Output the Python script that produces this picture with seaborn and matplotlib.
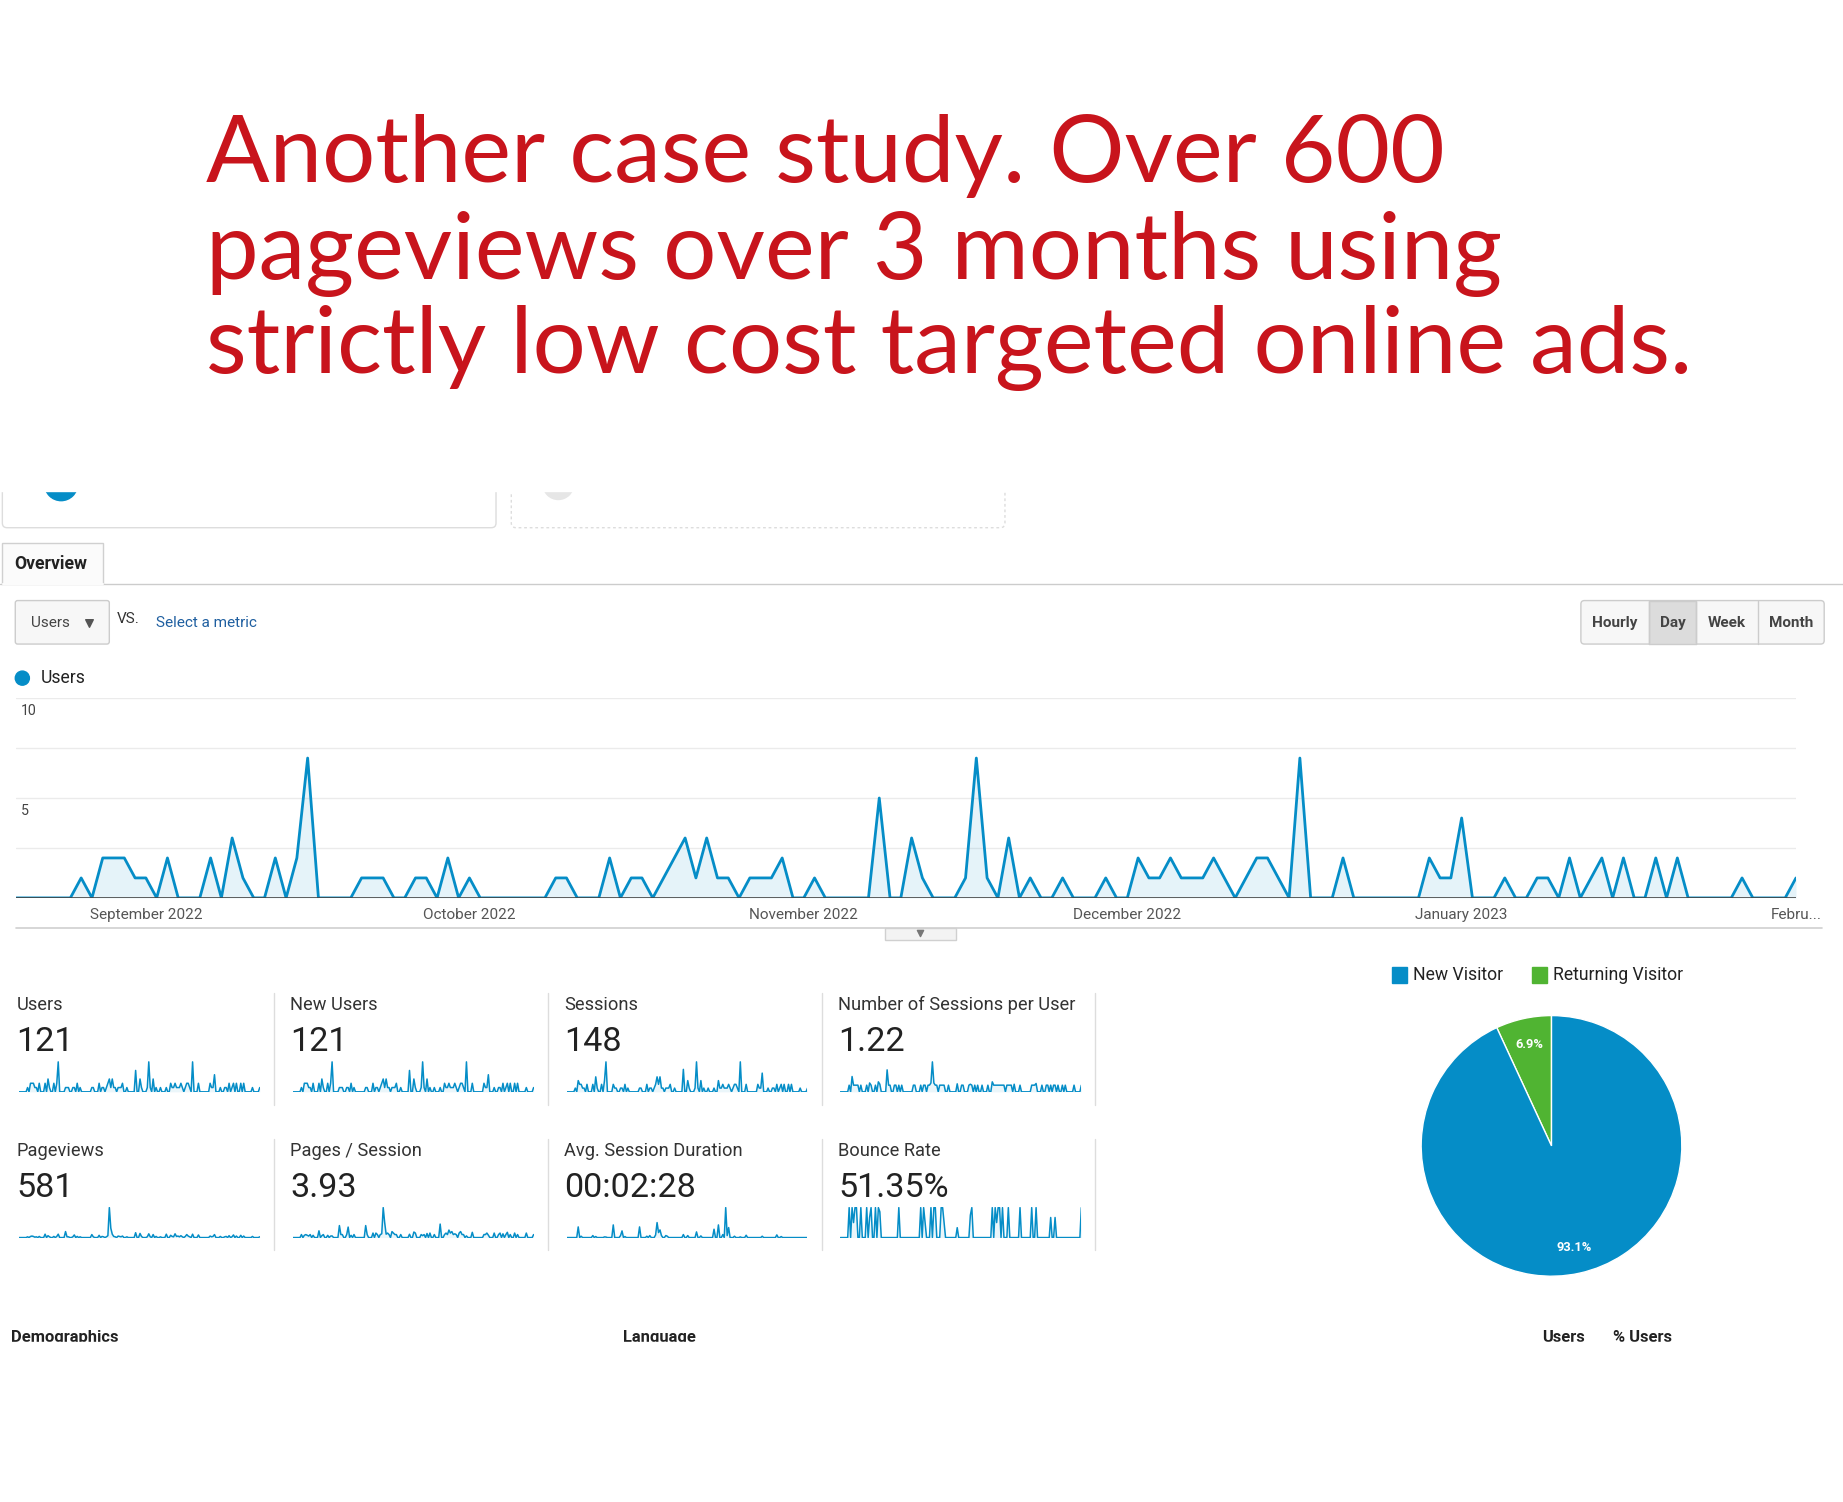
import pandas as pd
import matplotlib
matplotlib.use("Agg")
import matplotlib.pyplot as plt
import matplotlib.patches as mpatches
import seaborn as sns

# ---- data (daily, 20 Aug 2022 - 1 Feb 2023) ----
first_day = "2022-08-20"
last_day = "2023-02-01"

users = [0, 0, 0, 0, 0, 0, 1, 0, 2, 2,
         2, 1, 1, 0, 2, 0, 0, 0, 2, 0,
         3, 1, 0, 0, 2, 0, 2, 7, 0, 0,
         0, 0, 1, 1, 1, 0, 0, 1, 1, 0,
         2, 0, 1, 0, 0, 0, 0, 0, 0, 0,
         1, 1, 0, 0, 0, 2, 0, 1, 1, 0,
         1, 2, 3, 1, 3, 1, 1, 0, 1, 1,
         1, 2, 0, 0, 1, 0, 0, 0, 0, 0,
         5, 0, 0, 3, 1, 0, 0, 0, 1, 7,
         1, 0, 3, 0, 1, 0, 0, 1, 0, 0,
         0, 1, 0, 0, 2, 1, 1, 2, 1, 1,
         1, 2, 1, 0, 1, 2, 2, 1, 0, 7,
         0, 0, 0, 2, 0, 0, 0, 0, 0, 0,
         0, 2, 1, 1, 4, 0, 0, 0, 1, 0,
         0, 1, 1, 0, 2, 0, 1, 2, 0, 2,
         0, 0, 2, 0, 2, 0, 0, 0, 0, 0,
         1, 0, 0, 0, 0, 1]

# every user was new in this period, so the sparkline is identical
new_users = list(users)

sessions = [0, 0, 0, 0, 0, 0, 1, 0, 3, 2,
            2, 1, 1, 0, 2, 0, 0, 0, 2, 0,
            4, 1, 0, 0, 2, 0, 3, 8, 0, 0,
            0, 0, 2, 1, 1, 0, 0, 1, 1, 0,
            2, 0, 1, 0, 0, 0, 0, 0, 0, 0,
            1, 1, 0, 0, 0, 2, 0, 1, 1, 0,
            1, 2, 4, 2, 4, 1, 1, 0, 1, 1,
            1, 2, 0, 0, 1, 0, 0, 0, 0, 0,
            6, 0, 0, 3, 1, 0, 0, 0, 1, 8,
            1, 0, 3, 0, 1, 0, 0, 1, 0, 0,
            0, 1, 0, 0, 3, 1, 1, 2, 1, 1,
            1, 2, 1, 0, 1, 2, 2, 1, 0, 8,
            0, 0, 0, 2, 0, 0, 0, 0, 0, 0,
            0, 2, 1, 1, 5, 0, 0, 0, 1, 0,
            0, 1, 1, 0, 2, 0, 1, 2, 0, 2,
            0, 0, 2, 0, 2, 0, 0, 0, 0, 0,
            1, 0, 0, 0, 0, 1]

sessions_per_user = [0, 0, 0, 0, 0, 0, 1, 0, 2.3, 1,
                     1, 1, 1, 0, 1, 0, 0, 0, 1, 0,
                     1.33, 1, 0, 0, 1, 0, 1.5, 1.14, 0, 0,
                     0, 0, 3.3, 1, 1, 0, 0, 1, 1, 0,
                     1, 0, 1, 0, 0, 0, 0, 0, 0, 0,
                     1, 1, 0, 0, 0, 1, 0, 1, 1, 0,
                     1, 1, 1.33, 4.5, 1.33, 1, 1, 0, 1, 1,
                     1, 1, 0, 0, 1, 0, 0, 0, 0, 0,
                     1.2, 0, 0, 1, 1, 0, 0, 0, 1, 1.14,
                     1, 0, 1, 0, 1, 0, 0, 1, 0, 0,
                     0, 1, 0, 0, 1.5, 1, 1, 1, 1, 1,
                     1, 1, 1, 0, 1, 1, 1, 1, 0, 1.14,
                     0, 0, 0, 1, 0, 0, 0, 0, 0, 0,
                     0, 1, 1, 1, 1.25, 0, 0, 0, 1, 0,
                     0, 1, 1, 0, 1, 0, 1, 1, 0, 1,
                     0, 0, 1, 0, 1, 0, 0, 0, 0, 0,
                     1, 0, 0, 0, 0, 1]

pageviews = [0, 0, 0, 0, 0, 0, 2, 0, 3, 4,
             3, 1, 2, 0, 3, 0, 0, 0, 9, 0,
             5, 2, 0, 0, 3, 0, 3, 9, 0, 0,
             0, 0, 16, 2, 2, 0, 0, 2, 7, 0,
             3, 0, 2, 0, 0, 0, 0, 0, 0, 0,
             8, 2, 0, 0, 0, 6, 0, 3, 2, 0,
             2, 5, 80, 25, 9, 3, 2, 0, 4, 3,
             2, 4, 0, 0, 2, 0, 0, 0, 0, 0,
             13, 0, 0, 11, 3, 0, 0, 0, 2, 10,
             2, 0, 8, 0, 3, 0, 0, 2, 0, 0,
             0, 9, 0, 0, 6, 3, 2, 10, 3, 4,
             2, 5, 2, 0, 3, 8, 4, 2, 0, 9,
             0, 0, 0, 7, 0, 0, 0, 0, 0, 0,
             0, 4, 2, 3, 8, 0, 0, 0, 3, 0,
             0, 2, 3, 0, 5, 0, 2, 7, 0, 4,
             0, 0, 6, 0, 4, 0, 0, 0, 0, 0,
             3, 0, 0, 0, 0, 2]

pages_per_session = [0, 0, 0, 0, 0, 0, 2, 0, 1.5, 2,
                     1.5, 1, 2, 0, 1.5, 0, 0, 0, 4.5, 0,
                     1.25, 2, 0, 0, 1.5, 0, 1, 1.1, 0, 0,
                     0, 0, 8, 2, 2, 0, 0, 2, 7, 0,
                     1.5, 0, 2, 0, 0, 0, 0, 0, 0, 0,
                     8, 2, 0, 0, 0, 3, 0, 3, 2, 0,
                     2, 2.5, 20, 10, 2.25, 3, 2, 0, 4, 3,
                     2, 2, 0, 0, 2, 0, 0, 0, 0, 0,
                     2.2, 0, 0, 3.7, 3, 0, 0, 0, 2, 1.25,
                     2, 0, 2.7, 0, 3, 0, 0, 2, 0, 0,
                     0, 9, 0, 0, 2, 3, 2, 5, 3, 4,
                     2, 2.5, 2, 0, 3, 4, 2, 2, 0, 1.1,
                     0, 0, 0, 3.5, 0, 0, 0, 0, 0, 0,
                     0, 2, 2, 3, 1.6, 0, 0, 0, 3, 0,
                     0, 2, 3, 0, 2.5, 0, 2, 3.5, 0, 2,
                     0, 0, 3, 0, 2, 0, 0, 0, 0, 0,
                     3, 0, 0, 0, 0, 2]

avg_session_secs = [0, 0, 0, 0, 0, 0, 0, 0, 320, 0,
                    40, 0, 0, 0, 0, 0, 0, 0, 60, 0,
                    30, 0, 0, 0, 0, 0, 20, 15, 0, 0,
                    0, 0, 380, 0, 0, 0, 0, 60, 200, 0,
                    30, 0, 0, 0, 0, 0, 0, 0, 0, 0,
                    320, 0, 0, 0, 0, 40, 0, 60, 0, 0,
                    0, 80, 450, 150, 230, 60, 0, 0, 60, 40,
                    0, 0, 0, 0, 0, 0, 0, 0, 0, 0,
                    90, 0, 0, 60, 0, 0, 0, 0, 0, 170,
                    0, 0, 50, 0, 0, 0, 0, 0, 0, 0,
                    0, 250, 0, 0, 380, 0, 0, 90, 0, 900,
                    60, 300, 0, 0, 0, 40, 0, 0, 0, 20,
                    0, 0, 0, 70, 0, 0, 0, 0, 0, 0,
                    0, 0, 0, 0, 40, 0, 0, 0, 0, 0,
                    0, 0, 0, 0, 80, 0, 0, 30, 0, 0,
                    0, 0, 0, 0, 0, 0, 0, 0, 0, 0,
                    0, 0, 0, 0, 0, 0]

bounce_rate = [0, 0, 0, 0, 0, 0, 100, 0, 100, 50,
               100, 100, 0, 0, 100, 0, 0, 0, 100, 0,
               67, 100, 0, 0, 100, 0, 100, 86, 0, 0,
               0, 0, 0, 0, 0, 0, 0, 0, 0, 0,
               100, 0, 0, 0, 0, 0, 0, 0, 0, 0,
               0, 0, 0, 0, 0, 100, 0, 100, 50, 0,
               0, 0, 100, 0, 100, 100, 0, 0, 0, 100,
               100, 50, 0, 0, 0, 0, 0, 0, 0, 0,
               33, 0, 0, 0, 0, 0, 0, 0, 0, 75,
               100, 0, 0, 0, 0, 0, 0, 0, 0, 0,
               0, 0, 0, 0, 100, 0, 100, 50, 100, 100,
               0, 100, 0, 0, 0, 100, 0, 0, 0, 0,
               0, 0, 0, 100, 0, 0, 0, 0, 0, 0,
               0, 100, 0, 0, 100, 0, 0, 0, 0, 0,
               0, 0, 0, 0, 67, 0, 0, 67, 0, 0,
               0, 0, 0, 0, 0, 0, 0, 0, 0, 0,
               0, 0, 0, 0, 0, 100]

month_ticks = ["2022-09-01", "2022-10-01", "2022-11-01", "2022-12-01", "2023-01-01", "2023-02-01"]
month_labels = ["September 2022", "October 2022", "November 2022", "December 2022", "January 2023", "Febru..."]

score_titles = ["Users", "New Users", "Sessions", "Number of Sessions per User",
                "Pageviews", "Pages / Session", "Avg. Session Duration", "Bounce Rate"]
score_values = ["121", "121", "148", "1.22", "581", "3.93", "00:02:28", "51.35%"]
score_series = [users, new_users, sessions, sessions_per_user,
                pageviews, pages_per_session, avg_session_secs, bounce_rate]

visitor_types = ["Returning Visitor", "New Visitor"]
visitor_share = [6.9, 93.1]

title_lines = ["Another case study. Over 600",
               "pageviews over 3 months using",
               "strictly low cost targeted online ads."]

# ---- style ----
sns.set_theme(style="white")
plt.rcParams["font.family"] = ["Roboto", "DejaVu Sans"]

BLUE = "#058DC7"
GREEN = "#50B432"
RED = "#C8141C"

days = pd.date_range(first_day, last_day, freq="D")

# the screenshot is laid out on a 1568 x 1278 grid, scaled to 1843 x 1502
DW, DH = 1568, 1278


def box(x0, y0, x1, y1):
    return [x0 / DW, 1 - y1 / DH, (x1 - x0) / DW, (y1 - y0) / DH]


def fs(px):
    # screenshot pixel height -> points
    return px * 1843 / DW * 72 / 100


fig = plt.figure(figsize=(18.43, 15.02), dpi=100)
fig.patch.set_facecolor("white")

bg = fig.add_axes([0, 0, 1, 1])
bg.set_xlim(0, DW)
bg.set_ylim(DH, 0)
bg.axis("off")

# title
title_y = [155, 237, 317]
title_txt = []
for line, y in zip(title_lines, title_y):
    t = bg.text(175, y, line, family="Lato", color=RED, fontsize=60,
                va="baseline", ha="left")
    title_txt.append(t)
fig.canvas.draw()
r = fig.canvas.get_renderer()
w = title_txt[2].get_window_extent(r).width
scale = (1440 - 175) * 1843 / DW / w
for t in title_txt:
    t.set_fontsize(60 * scale)

# cut-off cards at the top of the screenshot
bg.add_patch(mpatches.FancyBboxPatch((2, 380), 420, 69, boxstyle="round,pad=0,rounding_size=4",
                                     fc="white", ec="#dddddd", lw=1))
bg.add_patch(mpatches.Circle((52, 412), 14, color=BLUE))
bg.add_patch(mpatches.FancyBboxPatch((435, 380), 420, 69, boxstyle="round,pad=0,rounding_size=4",
                                     fc="white", ec="#dddddd", lw=1, ls=(0, (2, 2))))
bg.add_patch(mpatches.Circle((475, 412), 13, color="#e6e6e6"))
bg.add_patch(mpatches.Rectangle((0, 340), DW, 78, color="white", zorder=3))

# overview tab
bg.plot([0, 2], [497, 497], color="#cccccc", lw=1)
bg.plot([88, DW], [497, 497], color="#cccccc", lw=1)
bg.add_patch(mpatches.Rectangle((2, 462), 86, 35, fc="#fbfbfb", ec="#d0d0d0", lw=1))
bg.plot([2.5, 87.5], [497, 497], color="#fbfbfb", lw=1.5)
bg.text(12, 480, "Overview", fontsize=fs(15), weight="bold", color="#222222", va="center")

# metric selector
bg.add_patch(mpatches.FancyBboxPatch((13, 511), 80, 37, boxstyle="round,pad=0,rounding_size=2",
                                     fc="#f7f7f7", ec="#cccccc", lw=1))
bg.text(26, 530, "Users", fontsize=fs(13), color="#444444", va="center")
bg.scatter([76], [530], marker="v", s=30, color="#555555")
bg.text(99, 527, "VS.", fontsize=fs(13), color="#333333", va="center")
bg.text(133, 530, "Select a metric", fontsize=fs(13), color="#1f5fa0", va="center")

# hourly / day / week / month buttons
bg.add_patch(mpatches.FancyBboxPatch((1345, 511), 207, 37, boxstyle="round,pad=0,rounding_size=3",
                                     fc="#f7f7f7", ec="#cccccc", lw=1))
bg.add_patch(mpatches.Rectangle((1403, 511), 40, 37, fc="#dcdcdc", ec="#cccccc", lw=1))
for xd in [1403, 1443, 1496]:
    bg.plot([xd, xd], [511, 548], color="#cccccc", lw=1)
for lab, xc in zip(["Hourly", "Day", "Week", "Month"], [1374, 1423, 1469.5, 1524]):
    bg.text(xc, 530, lab, fontsize=fs(13), weight="bold", color="#444444", ha="center", va="center")

# legend of the main chart
bg.add_patch(mpatches.Circle((19, 577), 6, color=BLUE))
bg.text(35, 577, "Users", fontsize=fs(15), color="#222222", va="center")

# ---- main users chart ----
ax = fig.add_axes(box(14, 594, 1528, 764))
ax.patch.set_alpha(0)
for v in [2.5, 5, 7.5, 10]:
    ax.axhline(v, color="#ebebeb", lw=1, zorder=0)
ax.fill_between(days, users, color=BLUE, alpha=0.1, lw=0)
sns.lineplot(x=days, y=users, ax=ax, color=BLUE, linewidth=2.0)
ax.axhline(0, color="#444444", lw=1.2)
ax.set_xlim(days[0], days[-1])
ax.set_ylim(0, 10)
ax.set_xticks(pd.to_datetime(month_ticks))
ax.set_xticklabels(month_labels, fontsize=fs(13), color="#555555")
ax.tick_params(axis="x", length=0, pad=7)
ax.set_yticks([])
ax.set_xlabel("")
ax.set_ylabel("")
for s in ax.spines.values():
    s.set_visible(False)
for v in [10, 5]:
    ax.annotate(str(v), (0, v), xycoords=("axes fraction", "data"), xytext=(3, -4),
                textcoords="offset points", fontsize=fs(12), color="#444444", va="top")

# bottom border of the chart with the small collapse tab
bg.plot([14, 1550], [790, 790], color="#d0d0d0", lw=1.2)
bg.add_patch(mpatches.Rectangle((753, 790), 60, 10, fc="#f3f3f3", ec="#d0d0d0", lw=1))
bg.scatter([783], [794], marker="v", s=20, color="#777777", zorder=4)

# ---- scorecards ----
for i, (name, val, series) in enumerate(zip(score_titles, score_values, score_series)):
    row, col = divmod(i, 4)
    x0 = 14 + 233 * col
    y0 = 124 * row
    bg.text(x0, 855 + y0, name, fontsize=fs(15.5), color="#333333", va="center")
    bg.text(x0, 887 + y0, val, fontsize=fs(29), color="#222222", va="center")
    sp = fig.add_axes(box(x0 + 2, 903 + y0, x0 + 207, 929 + y0))
    sp.patch.set_alpha(0)
    sp.fill_between(days, series, color=BLUE, alpha=0.08, lw=0)
    sns.lineplot(x=days, y=series, ax=sp, color=BLUE, linewidth=1.1)
    sp.set_xlim(days[0], days[-1])
    sp.set_ylim(0, max(series) * 1.02)
    sp.axis("off")
    bg.plot([233 * (col + 1)] * 2, [845 + y0, 940 + y0], color="#dddddd", lw=1)

# ---- visitor pie ----
pie_ax = fig.add_axes(box(1208, 863, 1432, 1087))
pie_ax.pie(visitor_share, colors=[GREEN, BLUE], startangle=90, counterclock=True,
           autopct="%.1f%%", pctdistance=0.8,
           wedgeprops=dict(edgecolor="white", linewidth=1),
           textprops=dict(color="white", fontsize=fs(11), weight="bold"))
pie_ax.set_xlim(-1.01, 1.01)
pie_ax.set_ylim(-1.01, 1.01)
pie_ax.set_aspect("equal")

bg.add_patch(mpatches.Rectangle((1184, 823), 13, 13, color=BLUE))
bg.text(1202, 830, visitor_types[1], fontsize=fs(15), color="#222222", va="center")
bg.add_patch(mpatches.Rectangle((1303, 823), 13, 13, color=GREEN))
bg.text(1321, 830, visitor_types[0], fontsize=fs(15), color="#222222", va="center")

# ---- table headers cut by the screenshot edge ----
for lab, xh in zip(["Demographics", "Language", "Users", "% Users"], [9, 530, 1312, 1372]):
    bg.text(xh, 1142, lab, fontsize=fs(14), weight="bold", color="#222222", va="baseline")
bg.add_patch(mpatches.Rectangle((0, 1142), DW, DH - 1142, color="white", zorder=5))

fig.savefig("out.png", dpi=100, facecolor="white")
